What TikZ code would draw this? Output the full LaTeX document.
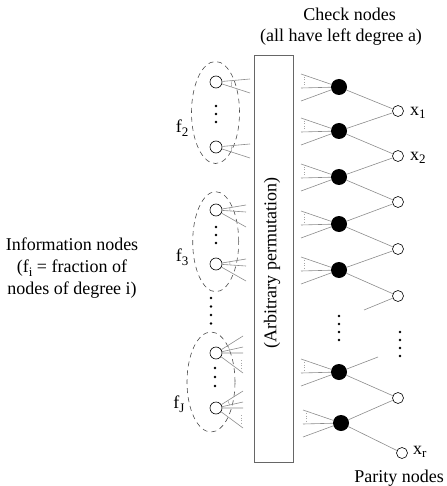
\documentclass[tikz,border=0pt]{standalone}
\usepackage{fontspec}
\setmainfont{Liberation Serif}
\usetikzlibrary{shapes.geometric,calc}
\newcommand\lowsub[1]{\raisebox{-0.45ex}{\fontsize{13}{13}\selectfont #1}}
\begin{document}
\begin{tikzpicture}[x=1pt,y=-1pt,
  every node/.style={font=\fontsize{18}{22}\selectfont},
  info/.style={circle,draw,line width=0.6pt,minimum size=12pt,inner sep=0pt},
  chk/.style={circle,fill=black,minimum size=16pt,inner sep=0pt},
  par/.style={circle,draw,line width=0.6pt,minimum size=11pt,inner sep=0pt},
  wire/.style={draw=black!45,line width=0.6pt},
  hint/.style={draw=black!35,line width=0.5pt,dotted},
  grp/.style={ellipse,draw=black!70,dash pattern=on 5pt off 4pt,line width=0.6pt,inner sep=0pt},
  dot/.style={circle,fill=black,minimum size=2.6pt,inner sep=0pt},
  lbl/.style={inner sep=0pt}]
\useasboundingbox (0,0) rectangle (446,486);

% permutation block
\node[draw=black!60,line width=0.6pt,minimum width=39pt,minimum height=407pt,inner sep=0pt] (box) at (273.5,258.5) {};
\node[rotate=90,lbl] (perm) at (272,263) {(Arbitrary permutation)};

% titles
\node[lbl,anchor=base] (t1) at (349.5,21) {Check nodes};
\node[lbl,anchor=base] (t2) at (341,42) {(all have left degree a)};
\node[lbl,align=center] (infolbl) at (72,268) {Information nodes\\(f\lowsub{i} = fraction of\\nodes of degree i)};
\node[lbl,anchor=base] (plbl) at (399,482) {Parity nodes};

% groups of information nodes
\node[grp,minimum width=48pt,minimum height=102pt] (g1) at (215.5,112.5) {};
\node[grp,minimum width=46pt,minimum height=100pt] (g2) at (215.7,241.7) {};
\node[grp,minimum width=48pt,minimum height=100pt] (g3) at (211,382) {};
\node[lbl] (f2) at (182,128) {f\lowsub{2}};
\node[lbl] (f3) at (182,257) {f\lowsub{3}};
\node[lbl] (fJ) at (179,404) {f\lowsub{J}};

% information nodes
\foreach \n/\y in {1/82,2/147,3/210,4/264,5/353,6/408}
  \node[info] (i\n) at (216,\y) {};

% degree-2 fans
\foreach \n in {1,2}{
  \path (i\n) ++(34,-3) coordinate (ia\n) ++(0,14) coordinate (ib\n);
  \draw[wire] (i\n) -- (ia\n) (i\n) -- (ib\n);
  \draw[wire,line width=0.4pt] ($(i\n.center)!16pt!(ia\n)$) -- ($(i\n.center)!16pt!(ib\n)$);
}
% degree-3 fans
\foreach \n in {3,4}{
  \path (i\n) ++(30,-5) coordinate (ia\n) ++(0,7) coordinate (im\n) ++(0,15) coordinate (ib\n);
  \draw[wire] (i\n) -- (ia\n) (i\n) -- (im\n) (i\n) -- (ib\n);
  \draw[wire,line width=0.4pt] ($(i\n.center)!14pt!(ia\n)$) -- ($(i\n.center)!14pt!(im\n)$);
}
% degree-J fans
\foreach \n in {5,6}{
  \path (i\n) ++(27,-17) coordinate (ia\n) ++(0,11) coordinate (im\n)
        ++(0,6) coordinate (in\n) ++(0,20) coordinate (ib\n);
  \draw[wire] (i\n) -- (ia\n) (i\n) -- (im\n) (i\n) -- (in\n) (i\n) -- (ib\n);
  \draw[wire,line width=0.4pt] ($(i\n.center)!14pt!(ia\n)$) -- ($(i\n.center)!14pt!(im\n)$);
  \path (i\n) ++(25,7) coordinate (ha\n) ++(0,10) coordinate (hb\n);
  \draw[hint] (ha\n) -- (hb\n);
}

% check nodes
\foreach \n/\x/\y in {1/339/87,2/339/131,3/339/177,4/339/224,5/339/270,6/339/372,7/341/423}
  \node[chk] (c\n) at (\x,\y) {};
% parity nodes
\foreach \n/\x/\y in {1/398/111,2/398/156,3/398/202,4/398/249,5/398/296,6/398/398,7/402/453}
  \node[par] (p\n) at (\x,\y) {};

% left fans of check nodes
\foreach \n in {1,...,7}{
  \path (c\n) ++(-38,-13) coordinate (ca\n) ++(0,14) coordinate (cb\n) ++(0,13) coordinate (cc\n);
  \draw[wire] (c\n) -- (ca\n) (c\n) -- (cb\n) (c\n) -- (cc\n);
  \path (ca\n) ++(3,3) coordinate (cd\n) ++(0,8) coordinate (ce\n);
  \draw[hint] (cd\n) -- (ce\n);
}

% check-to-parity edges
\draw[wire] (c1) -- (p1) (c2) -- (p1) (c2) -- (p2) (c3) -- (p2) (c3) -- (p3)
  (c4) -- (p3) (c4) -- (p4) (c5) -- (p4) (c5) -- (p5)
  (c6) -- (p6) (c7) -- (p6) (c7) -- (p7);
\coordinate (s1) at (364,310);
\coordinate (s2) at (378,357);
\draw[wire] (p5) -- (s1) (c6) -- (s2);

% parity labels
\node[lbl,anchor=west] (x1) at (410,113) {x\lowsub{1}};
\node[lbl,anchor=west] (x2) at (410,158) {x\lowsub{2}};
\node[lbl,anchor=west] (xr) at (413,452) {x\lowsub{r}};

% ellipsis dots
\foreach \n/\x/\y in {1/216/106,2/216/114,3/216/122,
    4/216/227,5/216/235,6/216/243,
    7/215/368,8/215/377,9/215/386,
    10/211/298,11/211/306.5,12/211/315,13/211/323.5,
    14/339/316,15/339/324,16/339/332,17/339/340,
    18/400/332,19/400/340,20/400/348,21/400/356}
  \node[dot] (d\n) at (\x,\y) {};
\end{tikzpicture}
\end{document}
